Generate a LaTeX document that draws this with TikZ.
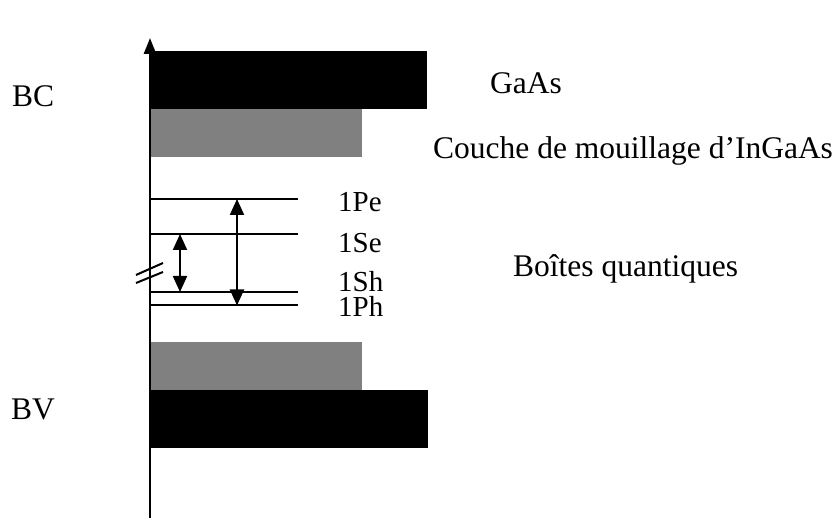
\documentclass[tikz,border=0pt]{standalone}
\usepackage{fontspec}
\setmainfont{Liberation Serif}
\usetikzlibrary{arrows.meta}

\begin{document}
\begin{tikzpicture}[x=1pt,y=-1pt,
    band/.style={draw=none},
    level/.style={line width=2pt},
    trans/.style={line width=2pt,{Triangle[width=14pt,length=16pt]}-{Triangle[width=14pt,length=16pt]}},
    lbl/.style={anchor=base west,inner sep=0pt,font=\fontsize{31.5}{36}\selectfont},
    lvl/.style={anchor=base west,inner sep=0pt,font=\fontsize{29}{34}\selectfont}]
  \useasboundingbox (0,0) rectangle (838,518);
  % bandes
  \fill[band,black] (150,51.5) rectangle (427,109);
  \fill[band,gray] (150,109) rectangle (362,157);
  \fill[band,gray] (150,342) rectangle (362,390);
  \fill[band,black] (150,390) rectangle (428,448);
  % axe
  \coordinate (bas) at (150,518);
  \coordinate (haut) at (150,38);
  \draw[line width=2.5pt,-{Triangle[width=12pt,length=16pt]}] (bas)--(haut);
  \draw[line width=2pt] (136,275)--(163,263);
  \draw[line width=2pt] (136,283)--(163,272);
  % niveaux
  \coordinate (pe) at (150,199);
  \coordinate (se) at (150,234);
  \coordinate (sh) at (150,292);
  \coordinate (ph) at (150,305.5);
  \foreach \n in {pe,se,sh,ph}
    \draw[level] (\n)--++(148,0);
  % transitions
  \coordinate (se1) at (180,234);
  \coordinate (sh1) at (180,292);
  \coordinate (pe1) at (237,199);
  \coordinate (ph1) at (237,305.5);
  \draw[trans] (se1)--(sh1);
  \draw[trans] (pe1)--(ph1);
  % textes
  \node[lbl] (bc) at (12,107) {BC};
  \node[lbl] (bv) at (11,420) {BV};
  \node[lbl] (gaas) at (490,94) {GaAs};
  \node[lbl] (couche) at (433,159) {Couche de mouillage d’InGaAs};
  \node[lbl] (boites) at (513,277) {Boîtes quantiques};
  \node[lvl] (lpe) at (338,212) {1Pe};
  \node[lvl] (lse) at (338,253) {1Se};
  \node[lvl] (lsh) at (338,292) {1Sh};
  \node[lvl] (lph) at (338,317) {1Ph};
\end{tikzpicture}
\end{document}
